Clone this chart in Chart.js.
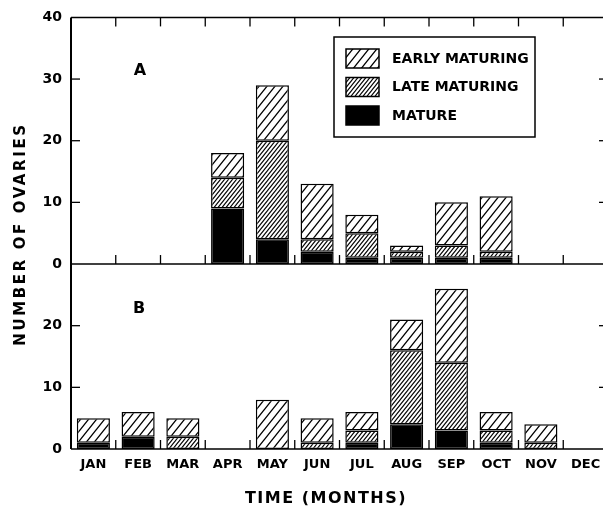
<!DOCTYPE html>
<html>
<head>
<meta charset="utf-8">
<script src="https://cdn.jsdelivr.net/npm/chart.js@4.4.1/dist/chart.umd.min.js"></script>
<style>
html, body { margin: 0; padding: 0; background: #fff; overflow: hidden; }
#wrap { position: relative; width: 610px; height: 509px; }
canvas { display: block; }
</style>
</head>
<body>
<div id="wrap"><canvas id="chart" width="610" height="509" style="width:610px;height:509px"></canvas></div>
<script>
// months along the bottom
var months = ['JAN', 'FEB', 'MAR', 'APR', 'MAY', 'JUN', 'JUL', 'AUG', 'SEP', 'OCT', 'NOV', 'DEC'];

// panel A (number of ovaries per stage)
var matureA = [0, 0, 0, 9, 4, 2, 1, 1, 1, 1, 0, 0];
var lateA   = [0, 0, 0, 5, 16, 2, 4, 1, 2, 1, 0, 0];
var earlyA  = [0, 0, 0, 4, 9, 9, 3, 1, 7, 9, 0, 0];

// panel B
var matureB = [1, 2, 0, 0, 0, 0, 1, 4, 3, 1, 0, 0];
var lateB   = [0, 0, 2, 0, 0, 1, 2, 12, 11, 2, 1, 0];
var earlyB  = [4, 4, 3, 0, 8, 4, 3, 5, 12, 3, 3, 0];

var ticksA = [0, 10, 20, 30, 40];
var ticksB = [0, 10, 20];

var stageNames = ['EARLY MATURING', 'LATE MATURING', 'MATURE'];

var canvas = document.getElementById('chart');
var ctx = canvas.getContext('2d');

// diagonal hatch fill
function hatch(w, h, lw) {
    var c = document.createElement('canvas');
    c.width = w; c.height = h;
    var g = c.getContext('2d');
    g.fillStyle = '#fff';
    g.fillRect(0, 0, w, h);
    g.strokeStyle = '#000';
    g.lineWidth = lw;
    g.beginPath();
    [0, h, 2 * h].forEach(function (k) {
        g.moveTo(-w, k + h);
        g.lineTo(2 * w, k - 2 * h);
    });
    g.stroke();
    return ctx.createPattern(c, 'repeat');
}

var earlyFill = hatch(8, 10, 1.3);
var lateFill = hatch(4, 5, 1.1);
var matureFill = '#000';
var stageFills = [earlyFill, lateFill, matureFill];

var FONT = 'DejaVu Sans';

function bar(data, fill, axis) {
    return {
        data: data,
        backgroundColor: fill,
        borderColor: '#000',
        borderWidth: 1.5,
        borderSkipped: false,
        yAxisID: axis,
        stack: 'all',
        barPercentage: 0.74,
        categoryPercentage: 1
    };
}

function line(c, x1, y1, x2, y2) {
    c.beginPath();
    c.moveTo(x1, y1);
    c.lineTo(x2, y2);
    c.stroke();
}

var framePlugin = {
    id: 'frame',
    afterDatasetsDraw: function (chart) {
        var c = chart.ctx, a = chart.chartArea;
        var x = chart.scales.x, yA = chart.scales.yA, yB = chart.scales.yB;
        c.save();
        c.strokeStyle = '#000';
        c.lineWidth = 1.5;
        line(c, a.left, yA.top, a.right, yA.top);
        line(c, a.left, yA.bottom, a.right, yA.bottom);
        line(c, a.left, yB.bottom, a.right, yB.bottom);
        c.lineWidth = 2;
        line(c, a.left, a.top, a.left, a.bottom);

        // month boundaries
        c.lineWidth = 1.3;
        for (var i = 1; i < months.length; i++) {
            var bx = (x.getPixelForValue(i - 1) + x.getPixelForValue(i)) / 2;
            line(c, bx, yA.top, bx, yA.top + 9);
            line(c, bx, yA.bottom, bx, yA.bottom - 9);
            line(c, bx, yB.bottom, bx, yB.bottom - 9);
        }
        // value ticks, both sides
        [yA, yB].forEach(function (s) {
            s.ticks.forEach(function (t) {
                if (t.value === 0 || t.value === s.max) return;
                var py = s.getPixelForValue(t.value);
                line(c, a.left, py, a.left + 9, py);
                line(c, a.right - 9, py, a.right, py);
            });
        });

        c.fillStyle = '#000';
        c.textBaseline = 'middle';
        c.textAlign = 'center';
        c.font = 'bold 16px ' + FONT;
        c.fillText('A', 140, 71);
        c.fillText('B', 139, 309);

        // legend
        c.lineWidth = 1.5;
        c.strokeRect(334, 37, 201, 100);
        c.textAlign = 'left';
        c.font = 'bold 14px ' + FONT;
        stageNames.forEach(function (name, k) {
            var top = 49 + k * 28.5;
            c.fillStyle = stageFills[k];
            c.fillRect(346, top, 33, 19);
            c.strokeRect(346, top, 33, 19);
            c.fillStyle = '#000';
            c.fillText(name, 392, top + 10);
        });

        // axis titles
        c.font = 'bold 15px ' + FONT;
        c.letterSpacing = '2.6px';
        c.save();
        c.translate(21, 234);
        c.rotate(-Math.PI / 2);
        c.textAlign = 'center';
        c.fillText('NUMBER OF OVARIES', 0, 0);
        c.restore();
        c.font = 'bold 16px ' + FONT;
        c.letterSpacing = '1.5px';
        c.textAlign = 'center';
        c.fillText('TIME (MONTHS)', 326, 499);
        c.letterSpacing = '0px';
        c.restore();
    }
};

var tickFont = { family: FONT, size: 14, weight: 'bold' };

new Chart(canvas, {
    type: 'bar',
    data: {
        labels: months,
        datasets: [
            bar(matureA, matureFill, 'yA'),
            bar(lateA, lateFill, 'yA'),
            bar(earlyA, earlyFill, 'yA'),
            bar(matureB, matureFill, 'yB'),
            bar(lateB, lateFill, 'yB'),
            bar(earlyB, earlyFill, 'yB')
        ]
    },
    options: {
        responsive: false,
        animation: false,
        layout: { padding: { top: 15, right: 2, left: 0, bottom: 0 } },
        plugins: { legend: { display: false }, tooltip: { enabled: false } },
        scales: {
            x: {
                stacked: true,
                grid: { display: false, drawTicks: false },
                border: { display: false },
                ticks: { color: '#000', font: { family: FONT, size: 13, weight: 'bold' }, padding: 8, maxRotation: 0 },
                afterFit: function (s) { s.height = 60; }
            },
            // left-stacked scales are laid out bottom-up, so B comes first
            yB: {
                type: 'linear',
                position: 'left',
                stack: 'panels',
                stackWeight: 30,
                stacked: true,
                min: 0,
                max: 30,
                afterBuildTicks: function (s) { s.ticks = ticksB.map(function (v) { return { value: v }; }); },
                grid: { display: false, drawTicks: false },
                border: { display: false },
                ticks: { color: '#000', font: tickFont, padding: 9 },
                afterFit: function (s) { s.width = 71; }
            },
            yA: {
                type: 'linear',
                position: 'left',
                stack: 'panels',
                stackWeight: 40,
                stacked: true,
                min: ticksA[0],
                max: ticksA[ticksA.length - 1],
                afterBuildTicks: function (s) { s.ticks = ticksA.map(function (v) { return { value: v }; }); },
                grid: { display: false, drawTicks: false },
                border: { display: false },
                ticks: { color: '#000', font: tickFont, padding: 9 },
                afterFit: function (s) { s.width = 71; }
            }
        }
    },
    plugins: [framePlugin]
});
</script>
</body>
</html>
